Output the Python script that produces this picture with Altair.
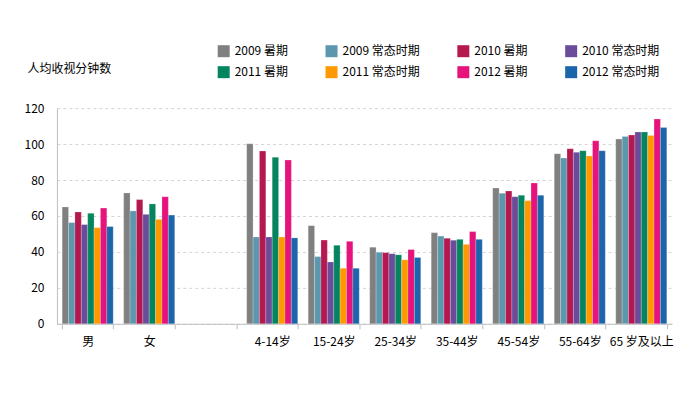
import altair as alt
import pandas as pd

categories = ["男", "女", " ", "4-14岁", "15-24岁", "25-34岁", "35-44岁", "45-54岁", "55-64岁", "65 岁及以上"]
data_categories = ["男", "女", "4-14岁", "15-24岁", "25-34岁", "35-44岁", "45-54岁", "55-64岁", "65 岁及以上"]
series = ["2009 暑期", "2009 常态时期", "2010 暑期", "2010 常态时期",
          "2011 暑期", "2011 常态时期", "2012 暑期", "2012 常态时期"]
colors = ["#808080", "#5b98ae", "#b5174f", "#6b4c9a", "#05855f", "#ff9900", "#e5137b", "#1c65aa"]

v2009_summer = [65.0, 72.8, 100.2, 54.6, 42.6, 50.7, 75.5, 94.6, 102.8]
v2009_normal = [56.3, 62.8, 48.3, 37.4, 39.8, 48.8, 72.6, 92.2, 104.2]
v2010_summer = [62.2, 69.1, 96.1, 46.6, 39.6, 47.6, 73.9, 97.4, 105.0]
v2010_normal = [55.2, 60.9, 48.3, 34.4, 39.0, 46.5, 70.7, 95.4, 106.7]
v2011_summer = [61.5, 66.7, 92.6, 43.7, 38.4, 47.0, 71.5, 96.3, 106.7]
v2011_normal = [53.5, 58.1, 48.3, 30.9, 35.6, 44.2, 68.5, 93.3, 104.8]
v2012_summer = [64.4, 70.7, 91.1, 45.9, 41.3, 51.3, 78.3, 101.8, 113.9]
v2012_normal = [54.1, 60.5, 47.8, 30.9, 36.9, 47.0, 71.5, 96.3, 109.2]

all_values = [v2009_summer, v2009_normal, v2010_summer, v2010_normal,
              v2011_summer, v2011_normal, v2012_summer, v2012_normal]

rows = []
for s, vals in zip(series, all_values):
    for c, v in zip(data_categories, vals):
        rows.append({"group": c, "series": s, "value": v})
df = pd.DataFrame(rows)

FONT = "Noto Sans CJK SC"

chart = alt.Chart(df).mark_bar(stroke="white", strokeOpacity=0.35, strokeWidth=0.6).encode(
    x=alt.X("group:N", sort=categories,
            scale=alt.Scale(domain=categories, paddingInner=0.17, paddingOuter=0.085),
            axis=alt.Axis(title=None, labelAngle=0, labelFontSize=12, labelFont=FONT,
                          labelColor="#000000", labelPadding=8, domainColor="#bfbfbf",
                          tickColor="#bfbfbf", tickBand="extent", tickSize=5,
                          grid=False)),
    xOffset=alt.XOffset("series:N", sort=series, scale=alt.Scale(domain=series, paddingInner=0)),
    y=alt.Y("value:Q", scale=alt.Scale(domain=[0, 120]),
            axis=alt.Axis(values=[0, 20, 40, 60, 80, 100, 120], title="人均收视分钟数",
                          titleAngle=0, titleAlign="left", titleBaseline="middle",
                          titleX=-30, titleY=-40, titleFont=FONT, titleFontSize=12,
                          titleFontWeight="normal", titleColor="#000000",
                          labelFont=FONT, labelFontSize=12, labelColor="#000000",
                          labelPadding=13, ticks=False, domainColor="#bfbfbf",
                          gridColor="#d4d4d4", gridDash=[3, 3], gridWidth=1)),
    color=alt.Color("series:N", sort=series,
                    scale=alt.Scale(domain=series, range=colors),
                    legend=alt.Legend(title=None, orient="none", legendX=161, legendY=-63,
                                      direction="horizontal",
                                      columns=4, symbolType="square", symbolSize=144,
                                      symbolStrokeWidth=0, labelFont=FONT, labelFontSize=12,
                                      labelColor="#000000", labelOffset=5, columnPadding=37,
                                      rowPadding=9, padding=0))
).properties(
    width=616, height=216,
    autosize=alt.AutoSizeParams(type="none"),
    padding={"left": 49, "top": 100, "right": 20, "bottom": 50}
).configure_view(stroke=None)

chart.save("out.html", embed_options={"renderer": "svg", "actions": False})
